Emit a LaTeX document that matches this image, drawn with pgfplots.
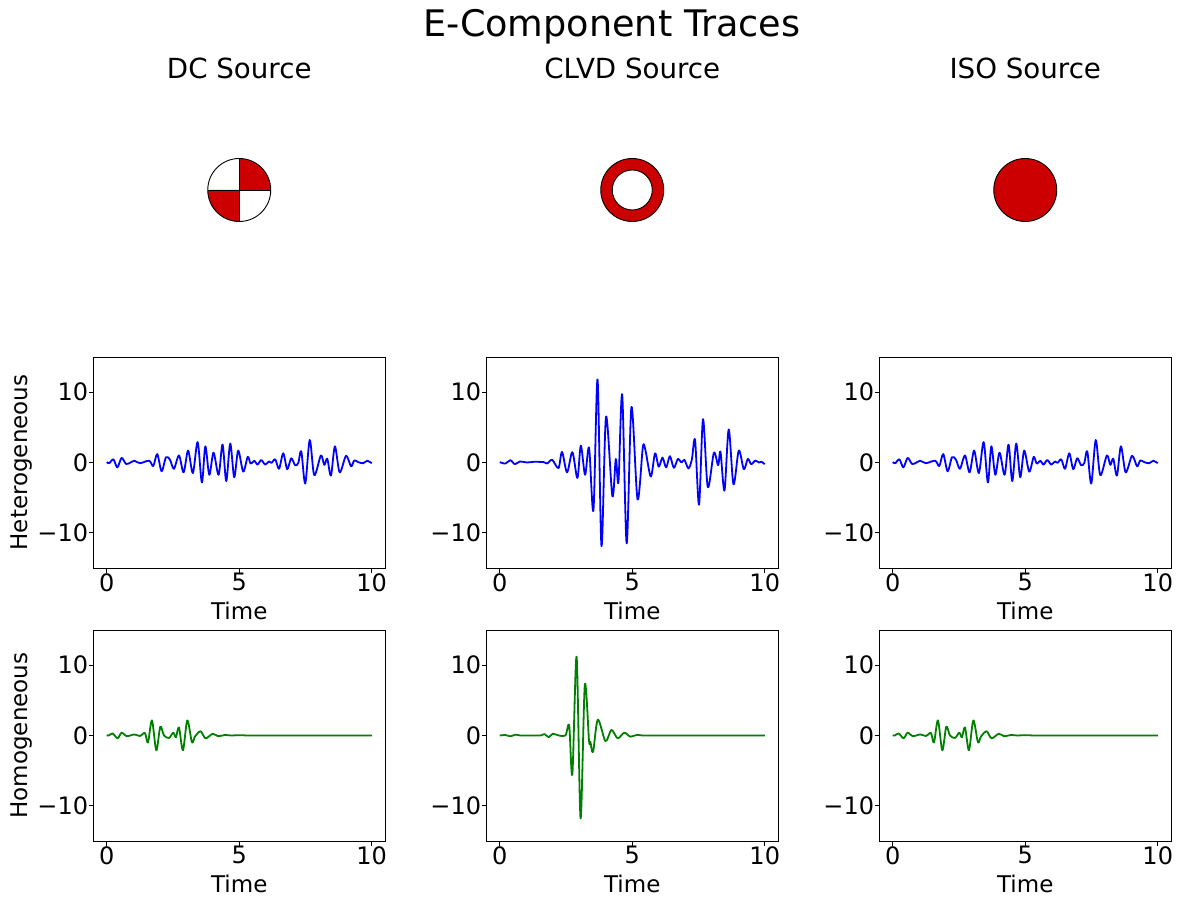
\documentclass[border=0pt]{standalone}
\usepackage{fontspec}
\setmainfont{DejaVu Sans}
\usepackage{pgfplots}
\usepackage{pgfplotstable}
\pgfplotsset{compat=1.18}
\definecolor{bbred}{RGB}{204,0,0}
\definecolor{trblue}{RGB}{0,0,255}
\definecolor{trgreen}{RGB}{0,128,0}
\pgfplotstableread{
t v
0 0.05
0.095 -0.1
0.25 0.45
0.40 -0.7
0.56 0.65
0.725 -0.2
0.875 -0.05
1.04 0.25
1.25 -0.1
1.6 0.25
1.755 -0.5
1.905 1.2
2.07 -1.25
2.235 0.75
2.385 0.4
2.535 -0.9
2.725 1.0
2.9 -1.4
3.07 1.7
3.25 -1.5
3.43 2.9
3.59 -2.85
3.72 2.3
3.87 -1.75
4.03 1.4
4.22 -1.75
4.37 2.55
4.51 -2.65
4.66 2.7
4.81 -2.1
4.96 1.7
5.15 -1.3
5.32 0.8
5.43 -0.15
5.57 0.25
5.69 -0.3
5.83 0.35
5.98 -0.3
6.12 0.15
6.22 -0.05
6.36 0.45
6.5 -0.9
6.66 1.3
6.81 -0.95
6.96 0.6
7.11 -0.4
7.23 -0.05
7.34 1.6
7.49 -3.0
7.66 3.2
7.83 -1.8
8.08 1.0
8.21 -0.35
8.32 0.55
8.46 -1.85
8.61 2.3
8.79 -1.4
9.03 0.95
9.22 -0.55
9.34 0.3
9.49 0.05
9.68 -0.1
9.83 0.25
10 -0.1
}\hetdc
\pgfplotstableread{
t v
0 0.05
0.215 -0.15
0.40 0.33
0.57 -0.24
0.76 0.14
1.03 0
1.285 0.1
1.66 0.05
1.79 -0.14
1.98 0.38
2.215 -0.8
2.35 1.5
2.54 -1.4
2.74 1.47
2.93 -2.2
3.06 2.4
3.22 -1.75
3.37 2.1
3.535 -6.8
3.69 11.8
3.84 -11.9
4.01 6.5
4.25 -4.8
4.38 0.5
4.48 -2.75
4.62 9.65
4.79 -11.5
4.97 7.9
5.2 -5.26
5.4 2.2
5.5 1.7
5.70 -2.0
5.86 1.3
6.0 -0.6
6.14 0.7
6.28 -0.7
6.42 0.9
6.57 -0.76
6.72 0.5
6.86 0
6.97 0.38
7.12 -0.85
7.25 0.43
7.37 3.2
7.52 -6.0
7.67 6.16
7.85 -3.5
8.08 1.37
8.24 -0.38
8.33 1.5
8.48 -4.0
8.64 4.7
8.82 -3.1
9.02 1.7
9.21 -0.95
9.36 0.5
9.49 -0.24
9.64 0.28
9.78 0
9.88 0.1
10 -0.24
}\hetclvd
\pgfplotstableread{
t v
0 0.05
0.08 0
0.22 0.3
0.41 -0.4
0.56 0.4
0.75 -0.1
1.04 0.15
1.25 -0.07
1.44 0.35
1.555 -1.0
1.705 2.15
1.87 -2.1
2.02 1.25
2.16 0
2.35 -0.35
2.51 0.4
2.61 -0.25
2.725 1.15
2.875 -2.1
3.04 2.15
3.215 -0.97
3.33 -0.15
3.54 0.6
3.73 -0.4
4.0 0.25
4.2 -0.1
4.46 0.07
4.71 0
4.96 0.05
5.2 0.02
5.5 0
7.5 0
10 0
}\homdc
\pgfplotstableread{
t v
0 0
0.215 0.07
0.40 -0.12
0.59 0.12
0.78 0
1.16 0
1.54 0
1.69 0.2
1.85 -0.25
2.0 0.25
2.23 0
2.48 0
2.62 1.4
2.74 -5.5
2.9 11.2
3.05 -11.8
3.21 7.2
3.37 -0.8
3.42 -0.9
3.52 -2.35
3.7 2.25
3.99 -0.8
4.215 0.8
4.45 -0.4
4.7 0.4
4.93 -0.17
5.18 0.1
5.5 0
7.5 0
10 0
}\homclvd
\pgfplotsset{
  trace/.style={
    scale only axis, width=291.5pt, height=211pt, anchor=south west,
    xmin=-0.5, xmax=10.5, ymin=-15, ymax=15,
    xtick={0,5,10}, ytick={-10,0,10},
    xticklabels={0,5,10}, yticklabels={−10,0,10},
    tick align=outside, tickwidth=4.9pt,
    xtick pos=bottom, ytick pos=left,
    axis line style={line width=0.9pt},
    tick style={line width=0.9pt,black},
    tick label style={font=\fontsize{24}{28}\selectfont},
    y tick label style={xshift=3pt},
    x tick label style={yshift=3pt},
    every axis x label/.style={at={(axis description cs:0.5,0)},anchor=north,yshift=-34pt,inner sep=0pt},
    every axis y label/.style={at={(axis description cs:0,0.5)},rotate=90,anchor=center,yshift=72pt,inner sep=0pt},
    label style={font=\fontsize{23}{26}\selectfont},
    xlabel={Time},
  },
  ballaxis/.style={
    scale only axis, width=291.5pt, height=184pt, anchor=south west,
    xmin=-145.75, xmax=145.75, ymin=-92, ymax=92,
    hide axis, clip=false,
  },
  wave/.style={line width=1.8pt, no markers, smooth, tension=0.5, line join=round},
}
\newcommand{\coltitle}[1]{\node[font=\fontsize{27.7}{32}\selectfont] at (axis cs:0,122) {#1};}
\begin{document}
\begin{tikzpicture}
\path[use as bounding box] (0,0) rectangle (1178pt,897pt);
\node[font=\fontsize{36.6}{42}\selectfont] at (612pt,870pt) {E-Component Traces};

% beachballs
\begin{axis}[ballaxis, at={(93.5pt,615pt)}]
  \coltitle{DC Source}
  \fill[bbred] (axis cs:0,0) -- (axis cs:31.5,0) arc[start angle=0,end angle=90,radius=31.5pt] -- cycle;
  \fill[bbred] (axis cs:0,0) -- (axis cs:-31.5,0) arc[start angle=180,end angle=270,radius=31.5pt] -- cycle;
  \draw[line width=0.9pt] (axis cs:-31.5,0) -- (axis cs:31.5,0);
  \draw[line width=0.9pt] (axis cs:0,-31.5) -- (axis cs:0,31.5);
  \draw[line width=0.9pt] (axis cs:0,0) circle[radius=31.5pt];
\end{axis}
\begin{axis}[ballaxis, at={(486.5pt,615pt)}]
  \coltitle{CLVD Source}
  \draw[line width=0.9pt,fill=bbred] (axis cs:0,0) circle[radius=31.5pt];
  \draw[line width=0.9pt,fill=white] (axis cs:0,0) circle[radius=20pt];
\end{axis}
\begin{axis}[ballaxis, at={(879.5pt,615pt)}]
  \coltitle{ISO Source}
  \draw[line width=0.9pt,fill=bbred] (axis cs:0,0) circle[radius=31.5pt];
\end{axis}

% heterogeneous row
\begin{axis}[trace, at={(93.5pt,329pt)}, ylabel={Heterogeneous}]
  \addplot[wave, color=trblue] table[x=t,y=v] {\hetdc};
\end{axis}
\begin{axis}[trace, at={(486.5pt,329pt)}]
  \addplot[wave, color=trblue] table[x=t,y=v] {\hetclvd};
\end{axis}
\begin{axis}[trace, at={(879.5pt,329pt)}]
  \addplot[wave, color=trblue] table[x=t,y=v] {\hetdc};
\end{axis}

% homogeneous row
\begin{axis}[trace, at={(93.5pt,56pt)}, ylabel={Homogeneous}]
  \addplot[wave, color=trgreen] table[x=t,y=v] {\homdc};
\end{axis}
\begin{axis}[trace, at={(486.5pt,56pt)}]
  \addplot[wave, color=trgreen] table[x=t,y=v] {\homclvd};
\end{axis}
\begin{axis}[trace, at={(879.5pt,56pt)}]
  \addplot[wave, color=trgreen] table[x=t,y=v] {\homdc};
\end{axis}
\end{tikzpicture}
\end{document}
